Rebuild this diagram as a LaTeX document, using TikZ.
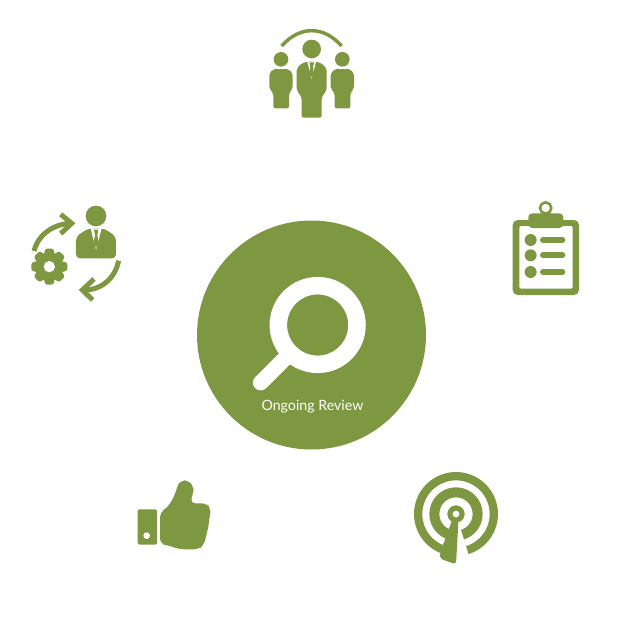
\documentclass[tikz,border=0pt]{standalone}
\usepackage{fontspec}
\setmainfont{Lato}
\usepackage{tikz}
\definecolor{moss}{HTML}{7E9741}
\tikzstyle{solid shape}=[fill=moss,draw=none]
\tikzstyle{cut}=[fill=white,draw=none]
\tikzstyle{band}=[draw=moss,fill=none,line width=5]
\tikzstyle{hub}=[circle,fill=moss,minimum size=229,inner sep=0]
\tikzstyle{caption}=[text=white,font=\fontsize{14.2}{16}\selectfont,inner sep=0]
\begin{document}
\begin{tikzpicture}[x=1pt,y=-1pt]
	\useasboundingbox (0,0) rectangle (628,632);
	% centre
	\node[hub] (review) at (311.5,335) {};
	\node[caption] (review text) at (312.5,406.5) {Ongoing Review};
	\begin{scope}[shift={(240,270)},scale=1/3]
		\draw[white,line width=15.5,line cap=round] (62,338) -- (135,265);
		\draw[white,line width=17.5,fill=moss] (233,165) circle (118);
	\end{scope}
	% people
	\begin{scope}[shift={(250,10)},scale=1/3]
		\draw[band,line width=3.5] (95,108) .. controls (122,78) and (152,62) .. (185,62) .. controls (218,62) and (248,78) .. (275,108);
		\fill[moss] (185,117) circle (28);
		\fill[moss] (93,148) circle (22);
		\fill[moss] (277,148) circle (22);
		\foreach \dx in {0,184} {
			\path[solid shape,rounded corners=2] (58+\dx,190) -- (70+\dx,178) -- (84+\dx,175) -- (93+\dx,181) -- (102+\dx,175) -- (116+\dx,178) -- (128+\dx,190) -- (128+\dx,235) -- (117+\dx,250) -- (117+\dx,295) -- (70+\dx,295) -- (70+\dx,250) -- (58+\dx,235) -- cycle;
		}
		\path[solid shape,rounded corners=2] (140,176) -- (155,160) -- (172,155) -- (198,155) -- (215,160) -- (230,176) -- (230,240) -- (215,262) -- (215,323) -- (155,323) -- (155,262) -- (140,240) -- cycle;
		\path[cut] (172,155) -- (198,155) -- (185,206) -- cycle;
		\path[solid shape] (178,157) -- (192,157) -- (189,172) -- (192,192) -- (185,201) -- (178,192) -- (181,172) -- cycle;
	\end{scope}
	% clipboard
	\begin{scope}[shift={(490,190)},scale=1/3]
		\draw[band,line width=2.6] (167,54) circle (17);
		\path[solid shape,rounded corners=5] (68,90) rectangle (267,315);
		\path[cut,rounded corners=2] (88,108) rectangle (248,296);
		\path[solid shape,rounded corners=4] (115,114) -- (115,70) -- (220,70) -- (220,114) -- cycle;
		\foreach \ypos in {150,196,246} {
			\fill[moss] (122,\ypos) circle (18);
			\draw[moss,line width=6,line cap=round] (159,\ypos) -- (217,\ypos);
		}
	\end{scope}
	% process
	\begin{scope}[shift={(20,195)},scale=1/3]
		\fill[moss] (228,63) circle (31);
		\path[solid shape,rounded corners=4] (168,190) -- (168,125) -- (195,106) -- (212,100) -- (245,100) -- (262,106) -- (288,125) -- (288,190) -- cycle;
		\path[cut] (212,100) -- (245,100) -- (228,165) -- cycle;
		\path[solid shape] (222,104) -- (235,104) -- (232,120) -- (236,145) -- (228,158) -- (221,145) -- (225,120) -- cycle;
		\draw[band] (42,168) .. controls (55,118) and (100,88) .. (150,85);
		\draw[band] (122,58) -- (155,85) -- (122,116);
		\draw[band] (296,197) .. controls (285,250) and (245,285) .. (192,285);
		\draw[band] (222,252) -- (187,285) -- (218,315);
		\foreach \ang in {0,45,...,315} {
			\path[solid shape,rounded corners=1.5,rotate around={\ang:(88,215)}] (70,185) -- (76,161) -- (100,161) -- (106,185) -- cycle;
		}
		\fill[moss] (88,215) circle (42);
		\fill[white] (88,215) circle (17);
	\end{scope}
	% thumb
	\begin{scope}[shift={(125,470)},scale=1/3]
		\path[solid shape,rounded corners=2] (38,118) rectangle (96,224);
		\fill[white] (65,197) circle (10);
		\path[solid shape,rounded corners=5] (105,126) -- (125,115) -- (145,85) -- (158,48) -- (166,31) -- (190,31) -- (206,50) -- (205,68) -- (195,100) -- (245,100) -- (256,115) -- (256,135) -- (250,150) -- (252,168) -- (245,185) -- (243,205) -- (235,225) -- (222,238) -- (165,238) -- (125,225) -- (105,222) -- cycle;
	\end{scope}
	% target
	\begin{scope}[shift={(400,460)},scale=1/3]
		\draw[moss,line width=8.3] (168,162) circle (113.5);
		\draw[moss,line width=10] (168,162) circle (65);
		\fill[moss] (168,162) circle (26);
		\path[cut] (168,162) -- (135,290) -- (135,320) -- (217,320) -- cycle;
		\path[solid shape,rounded corners=3] (160,170) -- (120,280) -- (120,296) -- (168,313) -- (176,170) -- cycle;
		\fill[white] (168,162) circle (10);
	\end{scope}
\end{tikzpicture}
\end{document}
